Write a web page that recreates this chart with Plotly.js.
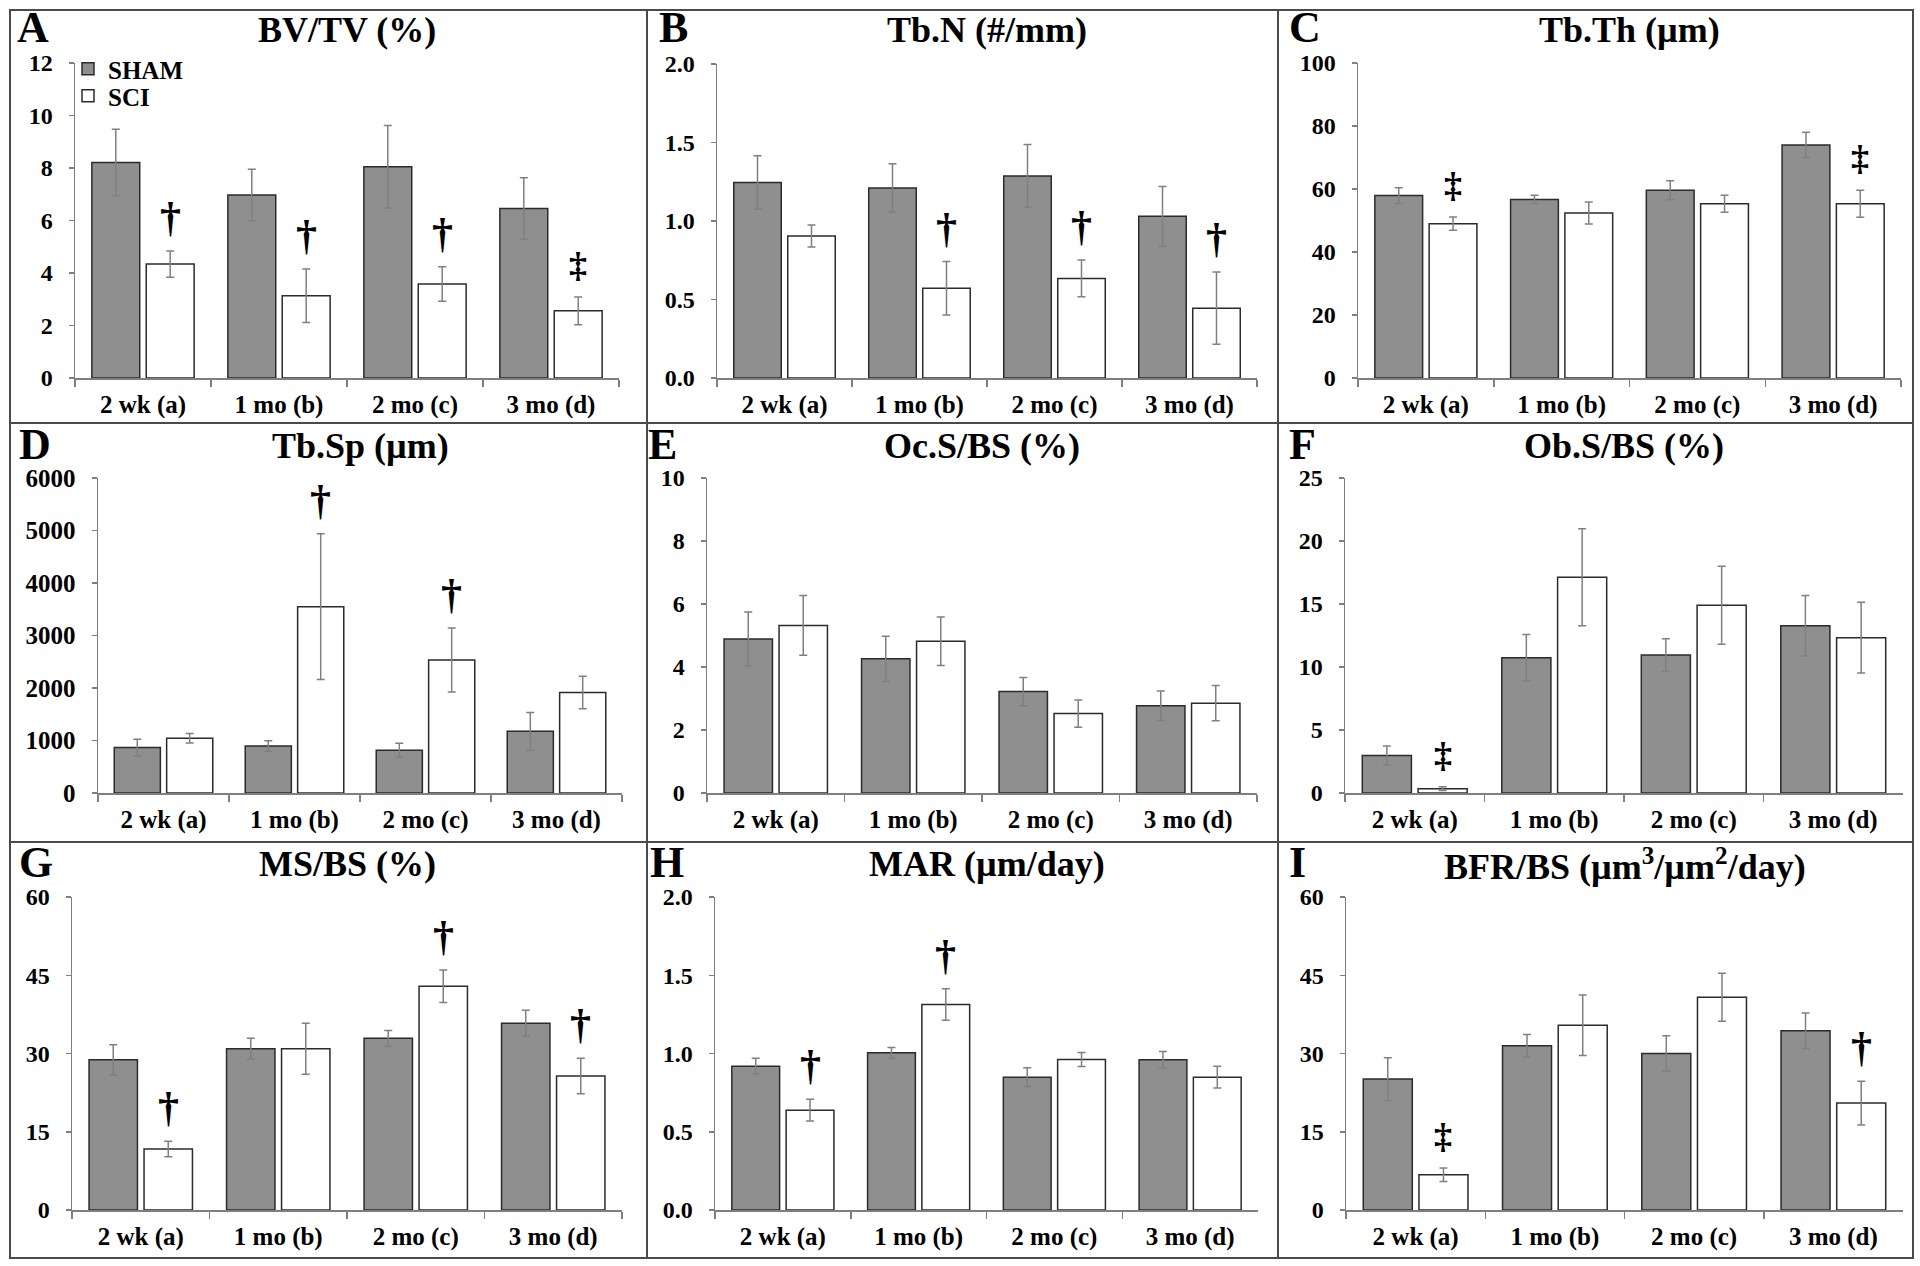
<!DOCTYPE html>
<html>
<head>
<meta charset="utf-8">
<script src="https://cdn.plot.ly/plotly-3.0.1.min.js"></script>
<style>
  html, body { margin: 0; padding: 0; background: #fff; }
  #chart { width: 1920px; height: 1266px; }
</style>
</head>
<body>
<div id="chart"></div>
<script>
const categories = ['2 wk (a)', '1 mo (b)', '2 mo (c)', '3 mo (d)'];

// A: BV/TV (%)
const bvtvSham = [8.21, 6.97, 8.05, 6.46];
const bvtvShamErr = [1.27, 0.98, 1.57, 1.17];
const bvtvSci = [4.34, 3.13, 3.58, 2.56];
const bvtvSciErr = [0.5, 1.02, 0.66, 0.53];
const bvtvMarks = ['†', '†', '†', '‡'];

// B: Tb.N (#/mm)
const tbnSham = [1.245, 1.21, 1.287, 1.03];
const tbnShamErr = [0.17, 0.155, 0.2, 0.19];
const tbnSci = [0.904, 0.572, 0.634, 0.445];
const tbnSciErr = [0.07, 0.17, 0.117, 0.23];
const tbnMarks = ['', '†', '†', '†'];

// C: Tb.Th (µm)
const tbthSham = [57.9, 56.7, 59.6, 74.0];
const tbthShamErr = [2.5, 1.3, 3.0, 4.0];
const tbthSci = [49.0, 52.4, 55.3, 55.3];
const tbthSciErr = [2.1, 3.5, 2.7, 4.3];
const tbthMarks = ['‡', '', '', '‡'];

// D: Tb.Sp (µm)
const tbspSham = [865, 897, 814, 1177];
const tbspShamErr = [160, 100, 134, 356];
const tbspSci = [1043, 3550, 2532, 1915];
const tbspSciErr = [90, 1390, 610, 311];
const tbspMarks = ['', '†', '†', ''];

// E: Oc.S/BS (%)
const ocsSham = [4.89, 4.26, 3.22, 2.77];
const ocsShamErr = [0.86, 0.72, 0.45, 0.47];
const ocsSci = [5.32, 4.82, 2.52, 2.85];
const ocsSciErr = [0.95, 0.77, 0.43, 0.56];
const ocsMarks = ['', '', '', ''];

// F: Ob.S/BS (%)
const obsSham = [2.97, 10.74, 10.95, 13.28];
const obsShamErr = [0.77, 1.83, 1.3, 2.4];
const obsSci = [0.34, 17.13, 14.9, 12.33];
const obsSciErr = [0.15, 3.85, 3.1, 2.8];
const obsMarks = ['‡', '', '', ''];

// G: MS/BS (%)
const msbsSham = [28.8, 30.9, 32.9, 35.8];
const msbsShamErr = [2.9, 2.0, 1.5, 2.5];
const msbsSci = [11.7, 30.9, 42.9, 25.7];
const msbsSciErr = [1.5, 4.9, 3.1, 3.4];
const msbsMarks = ['†', '', '†', '†'];

// H: MAR (µm/day)
const marSham = [0.919, 1.004, 0.849, 0.96];
const marShamErr = [0.05, 0.034, 0.06, 0.053];
const marSci = [0.638, 1.313, 0.962, 0.849];
const marSciErr = [0.07, 0.1, 0.045, 0.07];
const marMarks = ['†', '†', '', ''];

// I: BFR/BS (µm3/µm2/day)
const bfrSham = [25.1, 31.5, 30.0, 34.35];
const bfrShamErr = [4.1, 2.15, 3.4, 3.4];
const bfrSci = [6.74, 35.4, 40.8, 20.5];
const bfrSciErr = [1.3, 5.8, 4.6, 4.2];
const bfrMarks = ['‡', '', '', '†'];

const letters = ['A', 'B', 'C', 'D', 'E', 'F', 'G', 'H', 'I'];
const titles = ['BV/TV (%)', 'Tb.N (#/mm)', 'Tb.Th (µm)', 'Tb.Sp (µm)', 'Oc.S/BS (%)',
  'Ob.S/BS (%)', 'MS/BS (%)', 'MAR (µm/day)', 'BFR/BS (µm<sup>3</sup>/µm<sup>2</sup>/day)'];
const yMax = [12, 2, 100, 6000, 10, 25, 60, 2, 60];
const yStep = [2, 0.5, 20, 1000, 2, 5, 15, 0.5, 15];
const yFormat = ['', '.1f', '', '', '', '', '', '.1f', ''];

const shamData = [bvtvSham, tbnSham, tbthSham, tbspSham, ocsSham, obsSham, msbsSham, marSham, bfrSham];
const shamErr = [bvtvShamErr, tbnShamErr, tbthShamErr, tbspShamErr, ocsShamErr, obsShamErr, msbsShamErr, marShamErr, bfrShamErr];
const sciData = [bvtvSci, tbnSci, tbthSci, tbspSci, ocsSci, obsSci, msbsSci, marSci, bfrSci];
const sciErr = [bvtvSciErr, tbnSciErr, tbthSciErr, tbspSciErr, ocsSciErr, obsSciErr, msbsSciErr, marSciErr, bfrSciErr];
const marks = [bvtvMarks, tbnMarks, tbthMarks, tbspMarks, ocsMarks, obsMarks, msbsMarks, marMarks, bfrMarks];

// page geometry in pixels
const W = 1920, H = 1266;
const fx = v => v / W;
const fy = v => 1 - v / H;
// plot areas: left, right, top, bottom
const areas = [
  [75, 619, 63, 378], [717, 1257, 64, 378], [1358, 1901, 63, 378],
  [98, 622, 478, 793], [707, 1257, 478, 793], [1345, 1903, 478, 793],
  [72, 622, 897, 1210], [715, 1258, 897, 1210], [1346, 1903, 897, 1210]
];
const rowTitleY = [30, 446, 864];
const letterX = [15, 657, 1287, 17, 646, 1287, 17, 648, 1287];

const serif = '"Liberation Serif", "Times New Roman", serif';
const axisGrey = '#7f7f7f';
const legendFont = {family: serif, size: 25, color: '#000', weight: 'bold'};

let traces = [];
let annotations = [];
let layout = {
  width: W, height: H,
  margin: {l: 0, r: 0, t: 0, b: 0},
  paper_bgcolor: '#fff', plot_bgcolor: 'rgba(0,0,0,0)',
  barmode: 'group', bargap: 0.2, bargroupgap: 0.12,
  font: {family: serif, color: '#000'},
  showlegend: true,
  legend: {
    x: fx(68), y: fy(69), xanchor: 'left', yanchor: 'middle',
    bgcolor: 'rgba(0,0,0,0)', borderwidth: 0, font: legendFont, itemwidth: 30
  },
  legend2: {
    x: fx(68), y: fy(96), xanchor: 'left', yanchor: 'middle',
    bgcolor: 'rgba(0,0,0,0)', borderwidth: 0, font: legendFont, itemwidth: 30
  },
  shapes: [],
  annotations: annotations
};

for (let k = 0; k < 9; k++) {
  const n = k + 1;
  const xa = n === 1 ? 'x' : 'x' + n;
  const ya = n === 1 ? 'y' : 'y' + n;
  const [l, r, t, b] = areas[k];

  traces.push({
    type: 'bar', name: 'SHAM', x: categories, y: shamData[k],
    xaxis: xa, yaxis: ya, showlegend: k === 0, legend: 'legend',
    marker: {color: '#8f8f8f', line: {color: '#2b2b2b', width: 1.5}},
    error_y: {type: 'data', array: shamErr[k], visible: true, color: '#808080', thickness: 1.5, width: 4}
  });
  traces.push({
    type: 'bar', name: 'SCI', x: categories, y: sciData[k],
    xaxis: xa, yaxis: ya, showlegend: k === 0, legend: 'legend2',
    marker: {color: '#ffffff', line: {color: '#2b2b2b', width: 1.5}},
    error_y: {type: 'data', array: sciErr[k], visible: true, color: '#808080', thickness: 1.5, width: 4}
  });

  layout['xaxis' + (n === 1 ? '' : n)] = {
    domain: [fx(l), fx(r)], anchor: ya, type: 'category', range: [-0.5, 3.5],
    tickson: 'boundaries', ticks: 'outside', ticklen: 7, tickcolor: axisGrey, tickwidth: 1.5,
    showline: true, linecolor: axisGrey, linewidth: 1.5, showgrid: false, zeroline: false,
    tickfont: {family: serif, size: 25, color: '#000', weight: 'bold'},
    ticklabelstandoff: 3, fixedrange: true
  };
  layout['yaxis' + (n === 1 ? '' : n)] = {
    domain: [fy(b), fy(t)], anchor: xa, range: [0, yMax[k]], dtick: yStep[k], tick0: 0,
    tickformat: yFormat[k], ticks: 'outside', ticklen: 5, tickcolor: axisGrey, tickwidth: 1.5,
    showline: true, linecolor: axisGrey, linewidth: 1.5, showgrid: false, zeroline: false,
    tickfont: {family: serif, size: k === 3 ? 25 : 24, color: '#000', weight: 'bold'},
    ticklabelstandoff: 11, fixedrange: true
  };

  const row = Math.floor(k / 3);
  annotations.push({
    xref: xa + ' domain', yref: 'paper', x: 0.5, y: fy(rowTitleY[row]),
    xanchor: 'center', yanchor: 'middle', showarrow: false,
    text: titles[k], font: {family: serif, size: 36, color: '#000', weight: 'bold'}
  });
  annotations.push({
    xref: 'paper', yref: 'paper', x: fx(letterX[k]), y: fy(rowTitleY[row] - 2),
    xanchor: 'left', yanchor: 'middle', showarrow: false,
    text: letters[k], font: {family: serif, size: 44, color: '#000', weight: 'bold'}
  });

  // significance marks above the SCI bars
  marks[k].forEach((m, i) => {
    if (!m) return;
    annotations.push({
      xref: xa, yref: ya, x: i + 0.2, y: sciData[k][i] + sciErr[k][i],
      xanchor: 'center', yanchor: 'bottom', yshift: m === '†' ? 9 : 10, showarrow: false,
      text: m, font: {family: serif, size: m === '†' ? 42 : 36, color: '#000', weight: 'bold'}
    });
  });
}

// panel frame
const frameLine = {color: '#4a4a4a', width: 2};
const frame = [
  [10, 10, 1913, 1258, 'rect'],
  [647, 10, 647, 1258, 'line'], [1278, 10, 1278, 1258, 'line'],
  [10, 423, 1913, 423, 'line'], [10, 842, 1913, 842, 'line']
];
frame.forEach(f => {
  layout.shapes.push({
    type: f[4], xref: 'paper', yref: 'paper',
    x0: fx(f[0]), y0: fy(f[1]), x1: fx(f[2]), y1: fy(f[3]),
    line: frameLine, fillcolor: 'rgba(0,0,0,0)'
  });
});

Plotly.newPlot('chart', traces, layout, {displayModeBar: false, staticPlot: true});
</script>
</body>
</html>
